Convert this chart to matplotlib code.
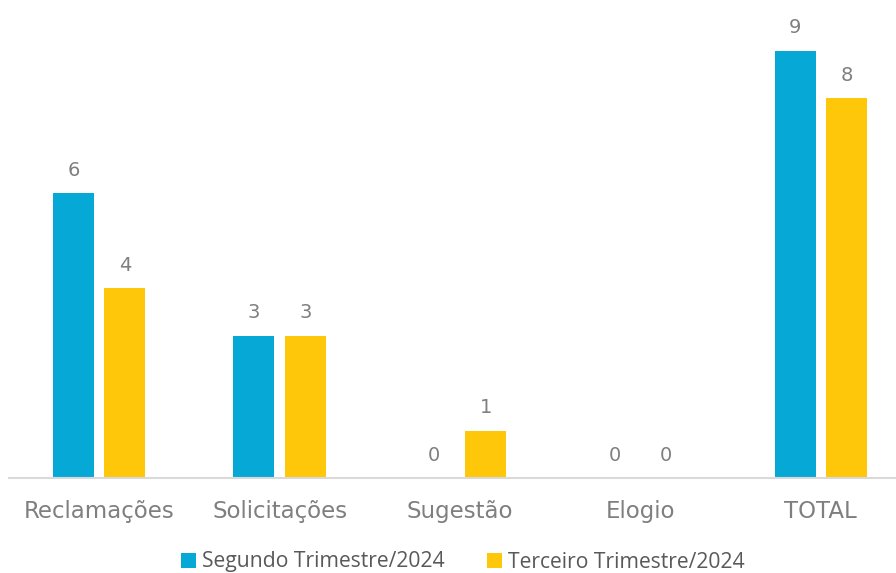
import matplotlib.pyplot as plt
import numpy as np

categories = ["Reclamações", "Solicitações", "Sugestão", "Elogio", "TOTAL"]
segundo = [6, 3, 0, 0, 9]
terceiro = [4, 3, 1, 0, 8]
series_names = ["Segundo Trimestre/2024", "Terceiro Trimestre/2024"]

blue = "#06A9D6"
yellow = "#FFC709"

fig = plt.figure(figsize=(8.96, 5.73), dpi=100)
ax = fig.add_axes([9 / 896, 1 - 478 / 573, 902 / 896, 475 / 573])

x = np.arange(len(categories))
w = 0.227
off = 0.1427
b1 = ax.bar(x - off, segundo, w, color=blue, label=series_names[0])
b2 = ax.bar(x + off, terceiro, w, color=yellow, label=series_names[1])

for bars in (b1, b2):
    for r in bars:
        h = r.get_height()
        ax.text(r.get_x() + r.get_width() / 2, h + 0.28, str(int(h)),
                ha="center", va="bottom", fontsize=14, color="#7f7f7f")

ax.set_xlim(-0.5, len(categories) - 0.5)
ax.set_ylim(0, 10)
ax.set_yticks([])
ax.set_xticks(x)
ax.set_xticklabels(categories, fontsize=16.5, color="#7f7f7f")
ax.tick_params(axis="x", length=0, pad=16)
for s in ["top", "right", "left"]:
    ax.spines[s].set_visible(False)
ax.spines["bottom"].set_color("#d9d9d9")
ax.spines["bottom"].set_linewidth(1.5)

leg = fig.legend(loc="center", bbox_to_anchor=(463 / 896, 1 - 562 / 573), ncol=2,
                 frameon=False, handlelength=0.72, handleheight=0.72, handletextpad=0.28,
                 columnspacing=2.0, prop={"family": "Open Sans", "size": 15.2})
for t in leg.get_texts():
    t.set_color("#595959")

fig.savefig("out.png", dpi=100)
